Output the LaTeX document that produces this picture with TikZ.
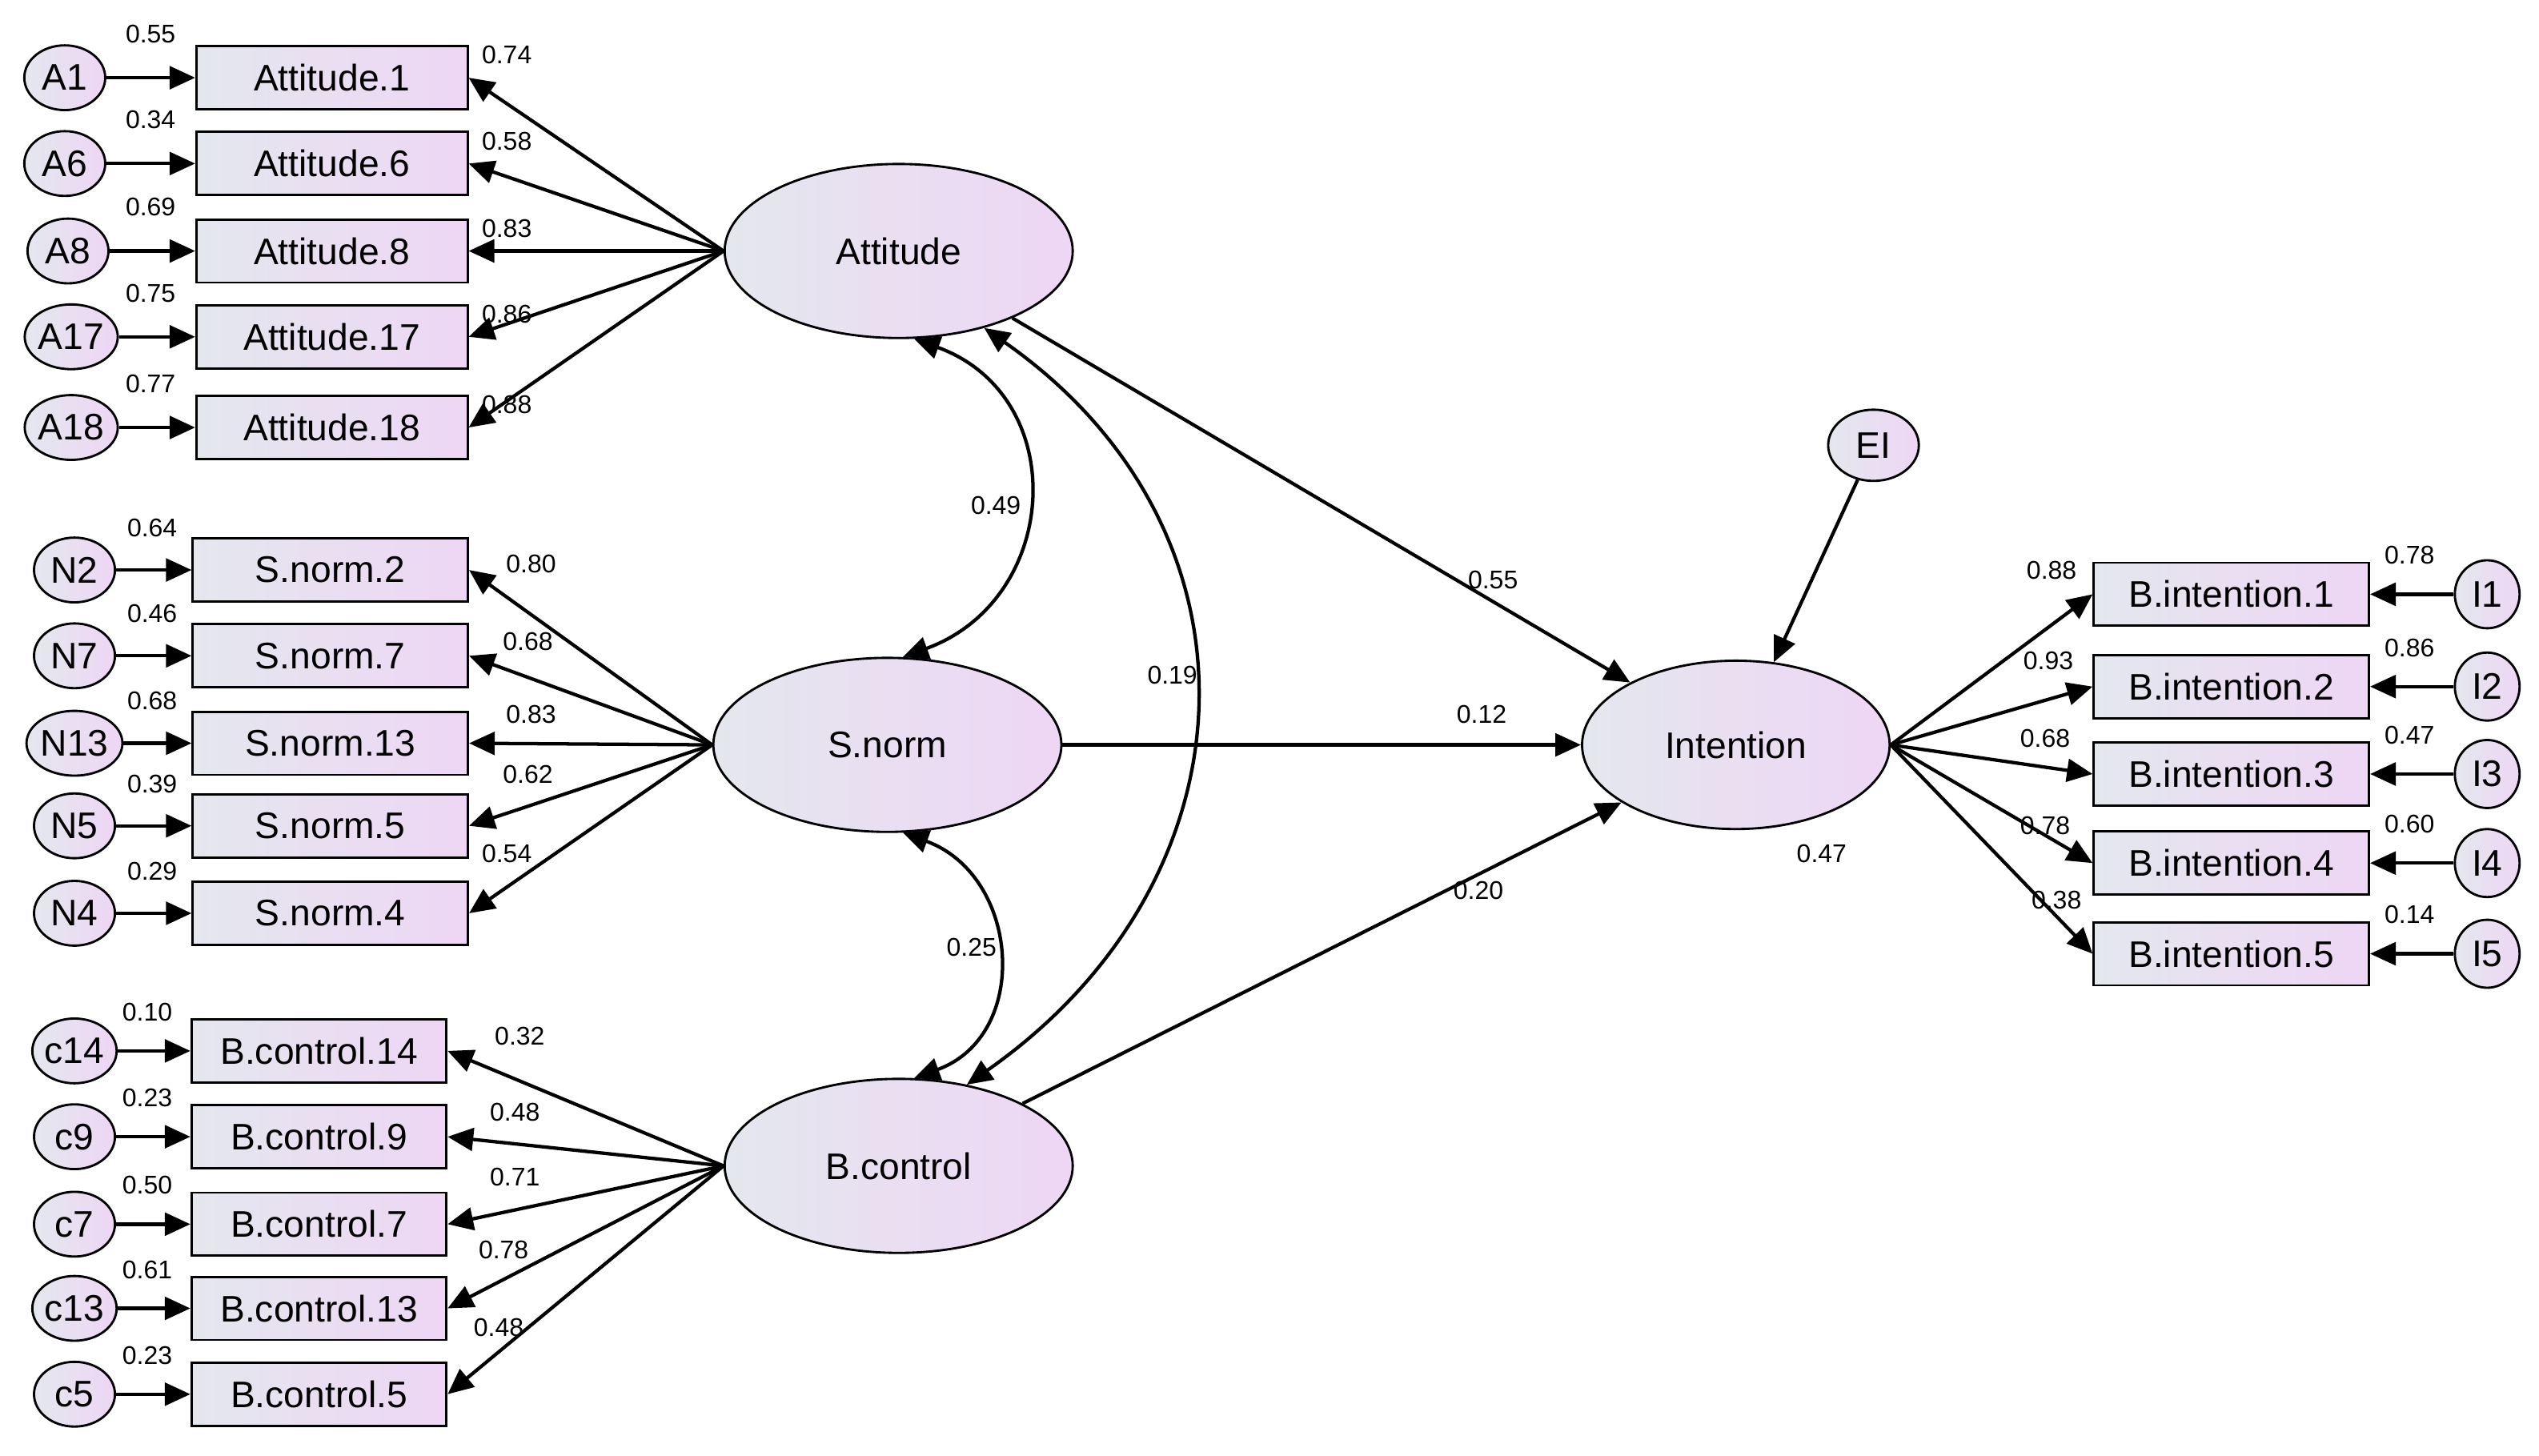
\documentclass[tikz,border=0pt]{standalone}
\usepackage{fontspec}
\setmainfont{Liberation Sans}
\usetikzlibrary{shapes.geometric,arrows.meta}
\definecolor{shadeL}{RGB}{228,231,238}
\definecolor{shadeR}{RGB}{238,214,245}
\begin{document}
\begin{tikzpicture}[
        x=0.02cm, y=-0.02cm,
        obs/.style={rectangle, draw, thick, left color=shadeL, right color=shadeR, minimum height=0.78cm, inner sep=2pt, font=\fontsize{13}{15}\selectfont},
        err/.style={ellipse, draw, thick, left color=shadeL, right color=shadeR, minimum width=1.0cm, minimum height=0.8cm, inner sep=0pt, font=\fontsize{13}{15}\selectfont},
        latent/.style={ellipse, draw, thick, left color=shadeL, right color=shadeR, minimum width=4.3cm, minimum height=2.15cm, font=\fontsize{13}{15}\selectfont},
        arrow/.style={-{Triangle[length=9pt,width=8pt]}, thick, line width=1.2pt},
        corr/.style={{Triangle[length=9pt,width=8pt]}-{Triangle[length=9pt,width=8pt]}, thick, line width=1.2pt},
        coef/.style={font=\fontsize{9}{10}\selectfont, inner sep=1pt}
    ]
        \useasboundingbox (0,0) rectangle (1568,899);

        % ========== LATENT VARIABLES ==========
        \node[latent] (att) at (555,155) {Attitude};
        \node[latent] (snorm) at (548,460) {S.norm};
        \node[latent] (bcon) at (555,720) {B.control};
        \node[latent, minimum width=3.8cm, minimum height=2.08cm] (intn) at (1072,460) {Intention};
        \node[err, minimum width=1.12cm, minimum height=0.88cm] (eI) at (1157,275) {EI};

        % ========== ATTITUDE ITEMS ==========
        \foreach \i/\nm/\ex/\y/\ld/\ev [count=\k] in {
            a1/A1/40/48/0.74/0.55, a6/A6/40/101/0.58/0.34, a8/A8/42/155/0.83/0.69,
            a17/A17/44/208/0.86/0.75, a18/A18/44/264/0.88/0.77}{
            \node[obs, minimum width=3.35cm] (\i) at (205,\y) {Attitude.\ifcase\k\or1\or6\or8\or17\or18\fi};
            \node[err] (e\i) at (\ex,\y) {\nm};
            \draw[arrow] (e\i.east) -- (\i.west);
            \draw[arrow] (att.west) -- (\i.east);
            \node[coef] at (93,\y-27) {\ev};
            \node[coef] at (313,\y-14) {\ld};
        }

        % ========== S.NORM ITEMS ==========
        \foreach \i/\nm/\y/\ld/\ev [count=\k] in {
            n2/N2/352/0.80/0.64, n7/N7/405/0.68/0.46, n13/N13/459/0.83/0.68,
            n5/N5/510/0.62/0.39, n4/N4/564/0.54/0.29}{
            \node[obs, minimum width=3.4cm] (\i) at (204,\y) {S.norm.\ifcase\k\or2\or7\or13\or5\or4\fi};
            \node[err] (e\i) at (46,\y) {\nm};
            \draw[arrow] (e\i.east) -- (\i.west);
            \draw[arrow] (snorm.west) -- (\i.east);
            \node[coef] at (94,\y-26) {\ev};
        }
        \node[coef] at (328,348) {0.80};
        \node[coef] at (326,396) {0.68};
        \node[coef] at (328,441) {0.83};
        \node[coef] at (326,478) {0.62};
        \node[coef] at (313,527) {0.54};

        % ========== B.CONTROL ITEMS ==========
        \foreach \i/\nm/\y/\ld/\ev [count=\k] in {
            c14/c14/649/0.32/0.10, c9/c9/702/0.48/0.23, c7/c7/756/0.71/0.50,
            c13/c13/808/0.78/0.61, c5/c5/861/0.48/0.23}{
            \node[obs, minimum width=3.15cm] (\i) at (197,\y) {B.control.\ifcase\k\or14\or9\or7\or13\or5\fi};
            \node[err] (e\i) at (46,\y) {\nm};
            \draw[arrow] (e\i.east) -- (\i.west);
            \draw[arrow] (bcon.west) -- (\i.east);
            \node[coef] at (91,\y-24) {\ev};
        }
        \node[coef] at (321,640) {0.32};
        \node[coef] at (318,687) {0.48};
        \node[coef] at (318,727) {0.71};
        \node[coef] at (311,772) {0.78};
        \node[coef] at (308,820) {0.48};

        % ========== INTENTION ITEMS ==========
        \foreach \i/\nm/\y/\ld/\ev [count=\k] in {
            b1/I1/367/0.88/0.78, b2/I2/424/0.93/0.86, b3/I3/478/0.68/0.47,
            b4/I4/533/0.78/0.60, b5/I5/589/0.38/0.14}{
            \node[obs, minimum width=3.4cm] (\i) at (1378,\y) {B.intention.\k};
            \node[err, minimum width=0.8cm, minimum height=0.84cm] (e\i) at (1536,\y) {\nm};
            \draw[arrow] (e\i.west) -- (\i.east);
            \draw[arrow] (intn.east) -- (\i.west);
            \node[coef] at (1488,\y-24) {\ev};
        }
        \node[coef] at (1267,352) {0.88};
        \node[coef] at (1265,408) {0.93};
        \node[coef] at (1263,456) {0.68};
        \node[coef] at (1263,510) {0.78};
        \node[coef] at (1270,556) {0.38};

        % ========== STRUCTURAL PATHS ==========
        \draw[arrow] (att) -- (intn);
        \draw[arrow] (snorm) -- (intn);
        \draw[arrow] (bcon) -- (intn);
        \draw[arrow] (eI) -- (intn);
        \node[coef] at (922,358) {0.55};
        \node[coef] at (915,441) {0.12};
        \node[coef] at (913,550) {0.20};
        \node[coef] at (1125,527) {0.47};

        % ========== COVARIANCES ==========
        \draw[corr] (att.-80) to[out=-20, in=20, looseness=1.35] (snorm.80);
        \draw[corr] (snorm.-80) to[out=-20, in=20, looseness=1.3] (bcon.80);
        \draw[corr] (att.-42) to[out=-35, in=35, looseness=1.2] (bcon.50);
        \node[coef] at (615,312) {0.49};
        \node[coef] at (600,585) {0.25};
        \node[coef] at (724,417) {0.19};
    \end{tikzpicture}
\end{document}
